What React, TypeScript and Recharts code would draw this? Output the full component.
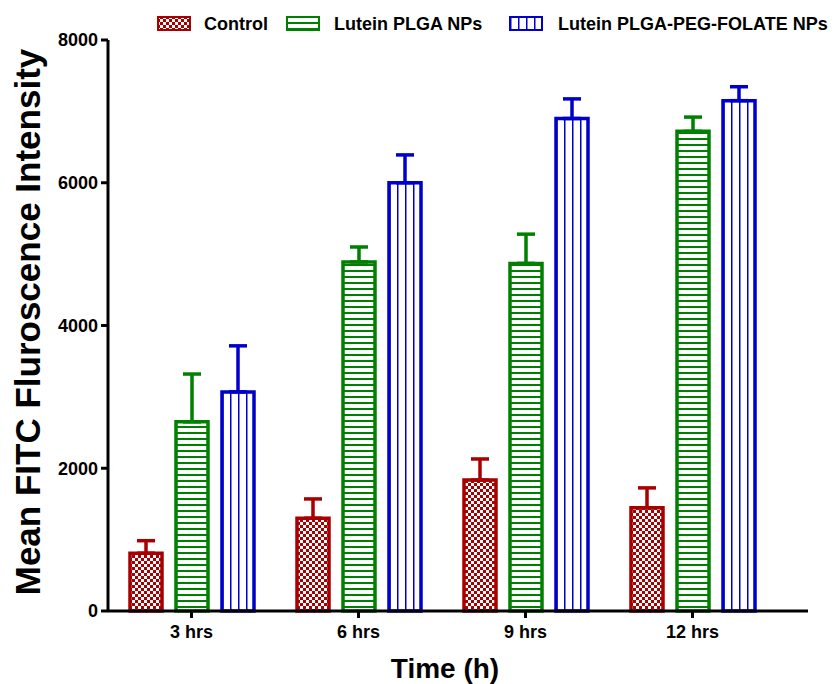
import { BarChart, Bar, XAxis, YAxis, ErrorBar, Label } from "recharts";

const timepoints = ["3 hrs", "6 hrs", "9 hrs", "12 hrs"];
const controlMean = [810, 1300, 1835, 1445];
const controlSem = [175, 270, 295, 280];
const plgaMean = [2650, 4890, 4870, 6720];
const plgaSem = [670, 210, 410, 200];
const folateMean = [3070, 6000, 6900, 7150];
const folateSem = [645, 390, 275, 195];
const yTicks = [0, 2000, 4000, 6000, 8000];

const RED = "#a80000";
const GREEN = "#008000";
const BLUE = "#0000cc";

const FONT = "'Liberation Sans', Arial, sans-serif";

// error bars only go up from the bar top
const data = timepoints.map((t, i) => ({
	time: t,
	control: controlMean[i],
	controlErr: [0, controlSem[i]],
	plga: plgaMean[i],
	plgaErr: [0, plgaSem[i]],
	folate: folateMean[i],
	folateErr: [0, folateSem[i]],
}));

const series = [
	{ key: "control", err: "controlErr", color: RED, fill: "url(#checkFill)", name: "Control" },
	{ key: "plga", err: "plgaErr", color: GREEN, fill: "url(#hLineFill)", name: "Lutein PLGA NPs" },
	{ key: "folate", err: "folateErr", color: BLUE, fill: "url(#vLineFill)", name: "Lutein PLGA-PEG-FOLATE NPs" },
];

const legendPos = [
	{ icon: 157, text: 204 },
	{ icon: 286, text: 334 },
	{ icon: 509, text: 558 },
];

const tickStyle = { fill: "#000", fontSize: 18, fontWeight: 700, fontFamily: FONT };

const PatternDefs = () => (
	<svg width={0} height={0} style={{ position: "absolute" }}>
		<defs>
			<pattern id="checkFill" width={6} height={6} patternUnits="userSpaceOnUse">
				<rect width={6} height={6} fill={RED} />
				<rect x={0} y={0} width={3} height={3} fill="#fff" />
				<rect x={3} y={3} width={3} height={3} fill="#fff" />
			</pattern>
			<pattern id="hLineFill" width={6} height={6} patternUnits="userSpaceOnUse">
				<rect width={6} height={6} fill="#fff" />
				<rect x={0} y={0} width={6} height={2} fill={GREEN} />
			</pattern>
			<pattern id="vLineFill" x={0} y={0} width={0.25} height={1} patternUnits="objectBoundingBox">
				<rect width={100} height={2000} fill="#fff" />
				<rect x={0} y={0} width={1.5} height={2000} fill={BLUE} />
			</pattern>
		</defs>
	</svg>
);

const ChartLegend = () => (
	<>
		{series.map((s, i) => (
			<div key={s.key}>
				<svg
					width={34}
					height={15}
					style={{ position: "absolute", left: legendPos[i].icon, top: 16 }}
				>
					<rect x={1} y={1} width={32} height={13} fill={s.fill} stroke={s.color} strokeWidth={2} />
				</svg>
				<div
					style={{
						position: "absolute",
						left: legendPos[i].text,
						top: 13,
						fontFamily: FONT,
						fontWeight: 700,
						fontSize: 18,
						lineHeight: "22px",
						whiteSpace: "nowrap",
					}}
				>
					{s.name}
				</div>
			</div>
		))}
	</>
);

export default function App() {
	return (
		<div style={{ position: "absolute", left: 0, top: 0, width: 837, height: 684, background: "#fff" }}>
			<PatternDefs />
			<ChartLegend />
			<BarChart
				width={837}
				height={684}
				data={data}
				margin={{ top: 40, right: 29, bottom: 0, left: 0 }}
				barSize={32}
				barGap={14}
				barCategoryGap={21}
			>
				<XAxis
					dataKey="time"
					height={73}
					padding={{ left: 0, right: 32 }}
					axisLine={{ stroke: "#000", strokeWidth: 3 }}
					tickLine={{ stroke: "#000", strokeWidth: 3 }}
					tickSize={7}
					tick={tickStyle}
					tickMargin={7}
				>
					<Label
						content={() => (
							<text
								x={445}
								y={678}
								textAnchor="middle"
								fontFamily={FONT}
								fontWeight={700}
								fontSize={28}
								fill="#000"
							>
								Time (h)
							</text>
						)}
					/>
				</XAxis>
				<YAxis
					width={108}
					domain={[0, 8000]}
					ticks={yTicks}
					interval={0}
					axisLine={{ stroke: "#000", strokeWidth: 3 }}
					tickLine={{ stroke: "#000", strokeWidth: 3 }}
					tickSize={7}
					tick={tickStyle}
					tickMargin={3}
				>
					<Label
						content={() => (
							<text
								x={40}
								y={322}
								transform="rotate(-90 40 322)"
								textAnchor="middle"
								fontFamily={FONT}
								fontWeight={700}
								fontSize={35}
								fill="#000"
							>
								Mean FITC Fluroscence Intensity
							</text>
						)}
					/>
				</YAxis>
				{series.map((s) => (
					<Bar
						key={s.key}
						dataKey={s.key}
						name={s.name}
						fill={s.fill}
						stroke={s.color}
						strokeWidth={3.5}
						isAnimationActive={false}
					>
						<ErrorBar
							dataKey={s.err}
							direction="y"
							width={9}
							stroke={s.color}
							strokeWidth={3.5}
							isAnimationActive={false}
						/>
					</Bar>
				))}
			</BarChart>
		</div>
	);
}
